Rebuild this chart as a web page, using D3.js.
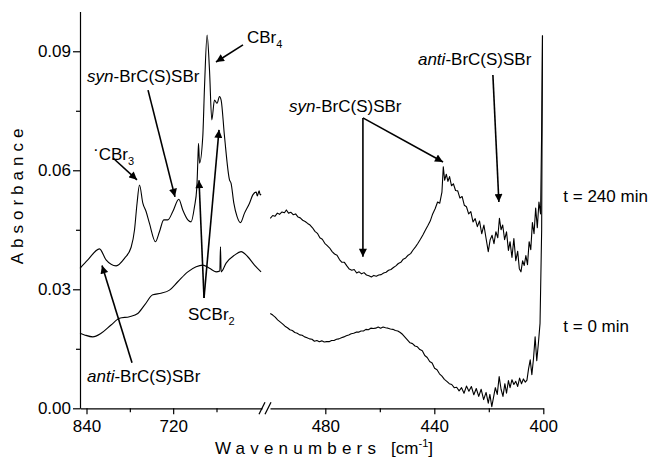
<!DOCTYPE html>
<html>
<head>
<meta charset="utf-8">
<script src="https://cdn.jsdelivr.net/npm/d3@7"></script>
<style>
  body { margin: 0; background: #fff; }
  text { font-family: "Liberation Sans", Arial, sans-serif; }
</style>
</head>
<body>
<div id="chart"></div>
<script>
// spectra: [wavenumber, absorbance]
var left240 = [[849,0.0353],[838.2,0.0374],[822,0.0402],[812.9,0.0374],[799,0.0359],[787.4,0.0378],[778.2,0.0406],
  [773.5,0.045],[770,0.0517],[766.6,0.0563],[762,0.0517],[757.5,0.0496],[752.8,0.0466],[744.5,0.042],[739,0.0445],
  [733,0.0475],[727.4,0.0475],[720.5,0.0496],[712.2,0.0527],[706.7,0.05],[699.7,0.0475],[695.2,0.047],[690.5,0.0508],
  [687.3,0.0555],[685.9,0.062],[684.9,0.0668],[683.5,0.0618],[679,0.0685],[676.6,0.081],[673,0.0941],[669.7,0.0853],
  [666.5,0.0727],[662.8,0.0777],[659.2,0.0769],[655.9,0.0786],[653.6,0.0777],[648.9,0.0685],[642,0.0576],[639.8,0.0567],
  [636,0.0517],[631.5,0.0483],[626.8,0.0468],[621.2,0.0492],[614.3,0.0517],[609.7,0.0538],[605,0.0545],[603.5,0.0535],
  [601,0.0548],[599.5,0.0538],[598.3,0.054]];

var left0 = [[849,0.0189],[842.8,0.0185],[831.3,0.018],[819.8,0.0189],[806,0.021],[794.3,0.0227],[780.5,0.0231],
  [769,0.0239],[759.7,0.026],[748.2,0.0286],[736.7,0.029],[725.1,0.0298],[713.6,0.0319],[699.7,0.0344],[688.2,0.0357],
  [679,0.0361],[669.7,0.0353],[660.6,0.0344],[655.4,0.0346],[654.5,0.0407],[653.6,0.0344],[646.7,0.0366],[635.1,0.0386],
  [626,0.0395],[616.7,0.0382],[607.4,0.0361],[598.3,0.0344]];

var right240 = [[500.2,0.0479],[499.3,0.0486],[498.5,0.0484],[497.6,0.0492],[496.8,0.0489],[495.9,0.0495],[495,0.0493],
  [494.3,0.05],[493.5,0.0492],[492.6,0.0494],[491.8,0.0488],[490.9,0.049],[490,0.0482],[489.2,0.048],[488.3,0.0474],
  [487.4,0.0471],[486.5,0.0466],[485.6,0.0462],[484.7,0.0455],[483.8,0.0446],[482.9,0.0441],[482,0.043],[481.1,0.0426],
  [480.2,0.0416],[479.3,0.041],[478.4,0.0404],[477.5,0.0395],[476.6,0.0389],[475.7,0.0386],[474.8,0.0375],[473.9,0.0368],
  [473,0.0368],[472.1,0.0359],[471.2,0.0351],[470.3,0.0348],[469.4,0.035],[468.5,0.0341],[467.6,0.0344],[466.7,0.0339],
  [465.8,0.0342],[464.9,0.0336],[464,0.0334],[463.1,0.0331],[462.2,0.0335],[461.3,0.0333],[460.4,0.0336],[459.5,0.0337],
  [458.6,0.0341],[457.7,0.0343],[456.8,0.0348],[455.9,0.035],[455,0.0355],[454.1,0.0359],[453.2,0.0365],[452.3,0.0368],
  [451.4,0.0376],[450.5,0.0379],[449.6,0.0386],[448.7,0.039],[447.8,0.0399],[446.9,0.0407],[446,0.0416],[445.1,0.0426],
  [444.2,0.0437],[443.3,0.0449],[442.4,0.046],[441.5,0.0472],[440.6,0.049],[439.7,0.0503],[438.8,0.052],[438,0.0517],
  [437.2,0.0545],[436.7,0.0609],[436.2,0.0575],[435.6,0.059],[435,0.0572],[434.4,0.0584],[433.7,0.0561],[433,0.0566],
  [432.2,0.0549],[431.4,0.0548],[430.6,0.053],[429.8,0.0534],[429,0.0512],[428.2,0.0508],[427.4,0.049],[426.6,0.0496],
  [425.8,0.047],[425,0.0478],[424.2,0.0458],[423.4,0.0472],[422.6,0.044],[421.8,0.0462],[421,0.0428],[420.2,0.0395],
  [419.5,0.0425],[418.8,0.0436],[418.1,0.0415],[417.4,0.0445],[416.7,0.043],[416.1,0.0479],[415.5,0.045],[414.9,0.0462],
  [414.2,0.0425],[413.5,0.0445],[412.8,0.0398],[412.2,0.042],[411.5,0.038],[410.8,0.0428],[410.1,0.0372],[409.4,0.0396],
  [408.8,0.0352],[408.2,0.0344],[407.6,0.0372],[407,0.036],[406.4,0.0385],[405.8,0.0362],[405.2,0.042],[404.6,0.04],
  [404,0.0468],[403.4,0.044],[402.8,0.0505],[402.2,0.0455],[401.6,0.052],[401,0.049],[400.6,0.07],[400.3,0.094]];

var right0 = [[500.2,0.0239],[499.3,0.0235],[498.4,0.023],[497.5,0.0223],[496.6,0.0218],[495.7,0.0213],[494.8,0.0207],
  [493.9,0.0203],[493,0.0198],[492.1,0.0196],[491.2,0.0191],[490.3,0.0189],[489.4,0.0185],[488.5,0.0184],[487.6,0.018],
  [486.7,0.0178],[485.8,0.0175],[484.9,0.0174],[484,0.0169],[483.1,0.0171],[482.2,0.0168],[481.3,0.017],[480.4,0.0167],
  [479.5,0.0168],[478.6,0.0168],[477.7,0.0171],[476.8,0.0171],[475.9,0.0174],[475,0.0175],[474.1,0.0178],[473.2,0.018],
  [472.3,0.0183],[471.4,0.0185],[470.5,0.0188],[469.6,0.0189],[468.7,0.0192],[467.8,0.0192],[466.9,0.0195],[466,0.0195],
  [465.1,0.0199],[464.2,0.0198],[463.3,0.0202],[462.4,0.0201],[461.5,0.0202],[460.6,0.0205],[459.7,0.0202],[458.8,0.0205],
  [457.9,0.0203],[457,0.0202],[456.1,0.02],[455.2,0.0199],[454.3,0.0196],[453.4,0.0195],[452.5,0.0191],[451.6,0.0186],
  [450.7,0.0179],[449.8,0.0172],[448.9,0.0165],[448,0.0163],[447.1,0.0157],[446.2,0.0155],[445.3,0.0148],[444.4,0.0145],
  [443.5,0.0133],[442.6,0.0128],[441.7,0.0118],[440.8,0.0114],[439.9,0.0101],[439,0.0097],[438.1,0.0087],[437.2,0.0081],
  [436.3,0.0073],[435.4,0.0068],[434.5,0.0062],[433.6,0.006],[432.7,0.0052],[431.8,0.0053],[430.9,0.0044],[430,0.0052],
  [429.1,0.0038],[428.2,0.0056],[427.3,0.0043],[426.4,0.0055],[425.5,0.0034],[424.6,0.005],[423.7,0.003],[422.8,0.0048],
  [421.9,0.0022],[421,0.004],[420.2,0.0013],[419.6,0.0035],[418.9,0.0004],[418.2,0.003],[417.6,0.0052],[416.9,0.0035],
  [416.2,0.008],[415.5,0.0048],[414.8,0.003],[414.1,0.0062],[413.5,0.0038],[412.8,0.007],[412.2,0.0052],[411.5,0.0072],
  [410.8,0.006],[410.1,0.0068],[409.4,0.0055],[408.7,0.0076],[408,0.0062],[407.3,0.0074],[406.6,0.0066],[406,0.0071],
  [405.4,0.01],[404.8,0.0122],[404.2,0.0085],[403.6,0.0125],[403,0.018],[402.4,0.012],[401.8,0.0164],[401.2,0.0214],
  [400.6,0.045],[400.3,0.094]];

var yMajor = [0, 0.03, 0.06, 0.09];
var yMinor = [0.015, 0.045, 0.075];
var leftMajor = [840, 720];
var leftMinor = [780, 660];
var rightMajor = [480, 440, 400];
var rightMinor = [460, 420];

// labels and arrows, placed in data units of the panel they sit in
var notes = [
  {side: "L", wn: 831, abs: 0.0626, parts: [["dot", "·"], ["", "CBr"], ["sub", "3"]]},
  {side: "L", wn: 839.3, abs: 0.0823, parts: [["i", "syn"], ["", "-BrC(S)SBr"]]},
  {side: "L", wn: 617.8, abs: 0.0921, parts: [["", "CBr"], ["sub", "4"]]},
  {side: "L", wn: 699.5, abs: 0.0223, parts: [["", "SCBr"], ["sub", "2"]]},
  {side: "L", wn: 839.3, abs: 0.0067, parts: [["i", "anti"], ["", "-BrC(S)SBr"]]},
  {side: "R", wn: 493.3, abs: 0.0748, parts: [["i", "syn"], ["", "-BrC(S)SBr"]]},
  {side: "R", wn: 446, abs: 0.0865, parts: [["i", "anti"], ["", "-BrC(S)SBr"]]}
];
var arrows = [
  {side: "L", from: [803.3, 0.0631], to: [770.1, 0.0576]},
  {side: "L", from: [754.8, 0.0802], to: [717.5, 0.0533]},
  {side: "L", from: [623.3, 0.0916], to: [660.7, 0.0873]},
  {side: "L", from: [677.3, 0.0278], to: [684.2, 0.0575]},
  {side: "L", from: [677.3, 0.0278], to: [656.5, 0.0702]},
  {side: "L", from: [777, 0.0115], to: [818.5, 0.036]},
  {side: "R", from: [466.2, 0.0732], to: [466.2, 0.0382]},
  {side: "R", from: [466.2, 0.0732], to: [436.8, 0.0621]},
  {side: "R", from: [418.5, 0.084], to: [416.3, 0.052]}
];
var seriesNames = ["t = 240 min", "t = 0 min"];

var width = 653, height = 459;
var fs = 17;

var svg = d3.select("#chart").append("svg")
    .attr("width", width)
    .attr("height", height);

// Set the ranges (broken x axis: two panels)
var xL = d3.scaleLinear().domain([849, 597]).range([80, 262]);
var xR = d3.scaleLinear().domain([500.3, 400]).range([270, 543.3]);
var y = d3.scaleLinear().domain([0, 0.1]).range([408.3, 11.6]);
var xs = {L: xL, R: xR};

svg.append("defs").append("marker")
    .attr("id", "head")
    .attr("viewBox", "0 0 10 10")
    .attr("refX", 10).attr("refY", 5)
    .attr("markerWidth", 5.5).attr("markerHeight", 5)
    .attr("markerUnits", "strokeWidth")
    .attr("orient", "auto")
  .append("path")
    .attr("d", "M0,0 L10,5 L0,10 z")
    .attr("fill", "#000");

// spectra
function drawLine(data, x, curve) {
    var line = d3.line()
        .x(function(d) { return x(d[0]); })
        .y(function(d) { return y(d[1]); })
        .curve(curve);
    svg.append("path")
        .attr("d", line(data))
        .attr("fill", "none")
        .attr("stroke", "#000")
        .attr("stroke-width", 1.1)
        .attr("stroke-linejoin", "round");
}
drawLine(left240, xL, d3.curveMonotoneX);
drawLine(left0, xL, d3.curveMonotoneX);
drawLine(right240, xR, d3.curveLinear);
drawLine(right0, xR, d3.curveLinear);

// axes
function styleAxis(g) {
    g.selectAll("path, line").attr("stroke", "#000").attr("stroke-width", 1.2);
    g.selectAll("text").attr("font-size", fs).attr("font-family", "'Liberation Sans', Arial, sans-serif").attr("fill", "#000");
}

svg.append("g")
    .attr("transform", "translate(80,0)")
    .call(d3.axisLeft(y).tickValues(yMajor).tickSize(7).tickSizeOuter(0).tickPadding(2).tickFormat(d3.format(".2f")))
    .call(styleAxis);
svg.append("g")
    .attr("transform", "translate(80,0)")
    .call(d3.axisLeft(y).tickValues(yMinor).tickSize(4).tickSizeOuter(0).tickFormat(""))
    .call(styleAxis)
    .select(".domain").remove();

[["L", leftMajor, leftMinor], ["R", rightMajor, rightMinor]].forEach(function(p) {
    var x = xs[p[0]];
    svg.append("g")
        .attr("transform", "translate(0," + y(0) + ")")
        .call(d3.axisBottom(x).tickValues(p[1]).tickSize(6).tickSizeOuter(0).tickPadding(6))
        .call(styleAxis);
    svg.append("g")
        .attr("transform", "translate(0," + y(0) + ")")
        .call(d3.axisBottom(x).tickValues(p[2]).tickSize(4).tickSizeOuter(0).tickFormat(""))
        .call(styleAxis)
        .select(".domain").remove();
});

// axis break marks
var bx = xL.range()[1], by = y(0);
[0, 6].forEach(function(o) {
    svg.append("line")
        .attr("x1", bx - 3 + o).attr("y1", by + 6)
        .attr("x2", bx + 3 + o).attr("y2", by - 6)
        .attr("stroke", "#000").attr("stroke-width", 1.3);
});

// axis titles
svg.append("text")
    .attr("x", 215).attr("y", 454)
    .attr("font-size", fs)
    .call(function(t) {
        t.append("tspan").attr("letter-spacing", "5.2px").text("Wavenumbers ");
        t.append("tspan").text("[cm");
        t.append("tspan").attr("font-size", 11).attr("dy", -7).text("-1");
        t.append("tspan").attr("dy", 7).text("]");
    });

svg.append("text")
    .attr("transform", "translate(23,194) rotate(-90)")
    .attr("text-anchor", "middle")
    .attr("font-size", fs)
    .attr("letter-spacing", "5px")
    .text("Absorbance");

// annotations
notes.forEach(function(n) {
    var t = svg.append("text")
        .attr("x", xs[n.side](n.wn))
        .attr("y", y(n.abs))
        .attr("font-size", fs);
    var shift = 0;
    n.parts.forEach(function(p) {
        var s = t.append("tspan").text(p[1]);
        var target = 0;
        if (p[0] === "i") s.attr("font-style", "italic");
        if (p[0] === "sub") { s.attr("font-size", 11); target = 5; }
        if (p[0] === "dot") { target = -5; }
        if (target !== shift) { s.attr("dy", target - shift); shift = target; }
    });
});

arrows.forEach(function(a) {
    var x = xs[a.side];
    svg.append("line")
        .attr("x1", x(a.from[0])).attr("y1", y(a.from[1]))
        .attr("x2", x(a.to[0])).attr("y2", y(a.to[1]))
        .attr("stroke", "#000")
        .attr("stroke-width", 1.6)
        .attr("marker-end", "url(#head)");
});

// series labels at the right of the plot, level with each trace
svg.selectAll(".series")
    .data(seriesNames)
    .join("text")
    .attr("class", "series")
    .attr("x", xR(400) + 20)
    .attr("y", function(d, i) { return i === 0 ? 202 : 332; })
    .attr("font-size", fs)
    .text(function(d) { return d; });
</script>
</body>
</html>
